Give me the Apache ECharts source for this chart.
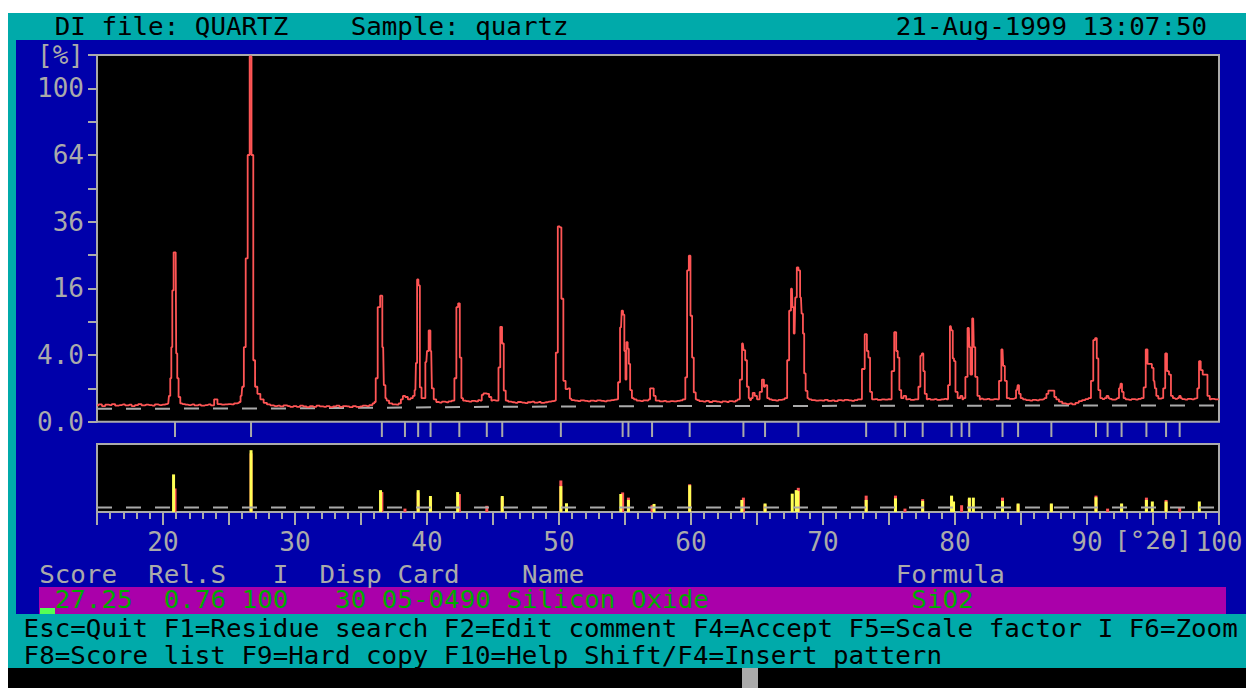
<!DOCTYPE html>
<html>
<head>
<meta charset="utf-8">
<title>DI file: QUARTZ</title>
<script src="https://cdn.jsdelivr.net/npm/echarts@6/dist/echarts.min.js"></script>
<style>
  html, body { margin: 0; padding: 0; background: #ffffff; }
  #screen { position: relative; width: 1246px; height: 688px; overflow: hidden; }
  .blk { position: absolute; }
  #chart { position: absolute; left: 0; top: 0; width: 1246px; height: 688px; }
</style>
</head>
<body>
<div id="screen">
  <div class="blk" style="left:8px;top:13px;width:1238px;height:655px;background:#00aaaa"></div>
  <div class="blk" style="left:16px;top:40px;width:1230px;height:574px;background:#0000aa"></div>
  <div class="blk" style="left:39px;top:587px;width:1187px;height:27px;background:#aa00aa"></div>
  <div class="blk" style="left:40px;top:608px;width:15px;height:6px;background:#55ff55"></div>
  <div class="blk" style="left:8px;top:668px;width:1238px;height:20px;background:#000000"></div>
  <div class="blk" style="left:742px;top:668px;width:16px;height:20px;background:#aaaaaa"></div>
  <div id="chart"></div>
</div>
<script>
// ---- screen text (column, text) ----
const headerItems = [[3, 'DI file: QUARTZ'], [22, 'Sample: quartz'], [57, '21-Aug-1999 13:07:50']];
const listHeader = [[2, 'Score'], [9, 'Rel.S'], [17, 'I'], [20, 'Disp'], [25, 'Card'], [33, 'Name'], [57, 'Formula']];
const matchRow = [[3, '27.25'], [10, '0.76'], [15, '100'], [21, '30'], [24, '05-0490'], [32, 'Silicon Oxide'], [58, 'SiO2']];
const keyRows = [
  'Esc=Quit F1=Residue search F2=Edit comment F4=Accept F5=Scale factor I F6=Zoom',
  'F8=Score list F9=Hard copy F10=Help Shift/F4=Insert pattern'
];

// ---- axes ----
const twoThetaMin = 15, twoThetaMax = 100;
const yMaxPercent = 121;
const yTickPercent = [0, 4, 16, 36, 64, 100];
const yTickText = ['0.0', '4.0', '16', '36', '64', '100'];
const xTickLabels = [20, 30, 40, 50, 60, 70, 80, 90, 100];
const xUnit = '[°2θ]';
const yUnit = '[%]';

// ---- measured scan: background counts every 0.25 deg from 15 deg (%) ----
const scanStart = 15, scanStep = 0.25;
const background = [
  0.24,0.27,0.22,0.26,0.25,0.28,0.23,0.25,0.27,0.24,0.26,0.22,0.25,0.28,0.24,0.26,0.25,0.23,0.27,0.25,
  0.26,0.28,0.3,0.3,0.3,0.3,0.28,0.26,0.25,0.27,0.24,0.26,0.23,0.25,0.27,0.24,0.45,0.28,0.26,0.27,
  0.28,0.27,0.3,0.32,0.5,0.5,0.5,0.5,0.5,0.5,0.5,0.32,0.27,0.24,0.22,0.23,0.21,0.24,0.22,0.2,
  0.22,0.2,0.23,0.21,0.19,0.22,0.2,0.23,0.21,0.2,0.22,0.19,0.21,0.23,0.2,0.22,0.21,0.19,0.22,0.2,
  0.21,0.23,0.22,0.25,0.3,0.5,0.5,0.5,0.4,0.3,0.27,0.26,0.5,0.5,0.5,0.5,0.5,0.5,0.5,0.5,
  0.5,0.5,0.5,0.5,0.33,0.36,0.34,0.37,0.5,0.5,0.5,0.5,0.38,0.36,0.39,0.37,0.42,0.5,0.5,0.5,
  0.42,0.4,0.5,0.5,0.5,0.36,0.34,0.32,0.35,0.33,0.31,0.34,0.36,0.33,0.35,0.32,0.34,0.36,0.38,0.5,
  0.5,0.5,0.5,0.5,0.42,0.4,0.38,0.41,0.39,0.37,0.4,0.38,0.41,0.39,0.37,0.4,0.42,0.44,0.5,0.5,
  0.5,0.5,0.5,0.45,0.4,0.38,0.41,0.4,0.5,0.5,0.4,0.37,0.39,0.36,0.38,0.37,0.39,0.41,0.5,0.5,
  0.5,0.5,0.42,0.38,0.36,0.39,0.35,0.38,0.36,0.34,0.37,0.35,0.38,0.36,0.4,0.5,0.5,0.5,0.42,0.5,
  0.5,0.5,0.5,0.5,0.45,0.42,0.4,0.43,0.45,0.5,0.5,0.5,0.5,0.5,0.5,0.5,0.45,0.42,0.4,0.41,
  0.4,0.43,0.39,0.41,0.38,0.42,0.4,0.43,0.41,0.39,0.42,0.45,0.5,0.5,0.5,0.5,0.46,0.43,0.45,0.44,
  0.46,0.5,0.5,0.5,0.5,0.5,0.46,0.43,0.45,0.5,0.5,0.5,0.47,0.44,0.46,0.43,0.45,0.47,0.5,0.5,
  0.5,0.5,0.5,0.5,0.5,0.5,0.5,0.5,0.48,0.45,0.47,0.44,0.46,0.5,0.5,0.5,0.5,0.47,0.48,0.5,
  0.5,0.45,0.42,0.4,0.43,0.41,0.44,0.46,0.5,0.5,0.5,0.45,0.36,0.3,0.28,0.3,0.27,0.32,0.38,0.42,
  0.46,0.5,0.5,0.5,0.5,0.46,0.5,0.47,0.44,0.46,0.5,0.5,0.45,0.43,0.46,0.44,0.47,0.5,0.5,0.5,
  0.5,0.5,0.48,0.5,0.5,0.5,0.5,0.47,0.5,0.46,0.44,0.47,0.45,0.48,0.5,0.5,0.5,0.5,0.47,0.45,
  0.46
];

// ---- measured scan: peak profiles [2theta, %] ----
const peakProfiles = [
  [[20.4,0.3],[20.5,0.6],[20.6,1.7],[20.66,5],[20.75,15.5],[20.86,25.8],[20.96,25.8],[21.04,4.2],[21.12,1.7],[21.24,0.55],[21.38,0.3]],
  [[25.8,0.35],[25.95,0.6],[26.05,1.1],[26.2,5],[26.33,24],[26.5,64],[26.63,120],[26.78,64],[26.9,3.4],[27.05,1.1],[27.25,0.7],[27.5,0.45]],
  [[36.05,0.35],[36.18,1.7],[36.35,11.8],[36.55,14.3],[36.68,5],[36.78,1.2],[36.92,0.5]],
  [[37.95,0.3],[38.1,0.45],[38.25,0.6],[38.45,0.55],[38.65,0.45],[38.85,0.5],[39.0,0.6]],
  [[39.12,0.9],[39.2,3.1],[39.3,18.2],[39.4,16.7],[39.52,1.06],[39.65,0.5],[39.8,0.5],[39.95,3.2],[40.05,4.5],[40.2,7.5],[40.32,4.5],[40.42,1],[40.6,0.45],[40.8,0.35]],
  [[42.0,0.4],[42.15,1.7],[42.3,11.8],[42.42,12.6],[42.55,3.7],[42.66,0.5],[42.8,0.4]],
  [[44.1,0.4],[44.2,0.65],[44.35,0.72],[44.6,0.7],[44.8,0.55],[44.95,0.4]],
  [[45.35,0.4],[45.48,2.65],[45.62,8.1],[45.75,5.5],[45.88,0.87],[46.05,0.4]],
  [[49.7,0.4],[49.82,4.3],[50.0,34.3],[50.12,34],[50.24,13.6],[50.42,1.5],[50.58,0.96],[50.72,1.0],[50.92,0.48]],
  [[54.4,0.45],[54.55,1.4],[54.7,8],[54.8,11.1],[54.9,10.3],[55.0,4.5],[55.07,1.6],[55.15,5.7],[55.25,4.8],[55.33,3],[55.45,0.9],[55.6,0.5]],
  [[56.85,0.45],[56.95,1.0],[57.1,1.0],[57.25,0.6],[57.4,0.4]],
  [[59.5,0.45],[59.64,1.77],[59.77,20.6],[59.9,24.8],[60.02,10.1],[60.15,3.7],[60.27,0.77],[60.45,0.45]],
  [[63.6,0.45],[63.8,1.6],[63.93,5.5],[64.03,4.6],[64.18,3.4],[64.3,1.1],[64.45,0.5]],
  [[64.6,0.5],[64.75,0.75],[64.9,0.6],[65.1,0.45],[65.3,0.8],[65.45,1.6],[65.6,1.1],[65.7,1.2],[65.85,0.5]],
  [[67.2,0.5],[67.37,3.4],[67.5,11.1],[67.65,15.9],[67.72,11.8],[67.85,7],[67.95,13.9],[68.08,21.4],[68.2,20.6],[68.33,13.9],[68.43,10.5],[68.53,7],[68.62,2.1],[68.75,0.85],[68.9,0.5]],
  [[72.85,0.45],[73.05,2.5],[73.27,6.9],[73.38,4.5],[73.5,3.7],[73.63,0.8],[73.8,0.45]],
  [[75.1,0.45],[75.3,2.3],[75.49,7.2],[75.6,4.5],[75.72,3.7],[75.85,0.9],[76.0,0.5],[76.2,0.6],[76.4,0.45]],
  [[77.15,0.45],[77.3,1.1],[77.45,3.9],[77.55,4.2],[77.65,2.3],[77.77,0.7],[77.95,0.45]],
  [[79.4,0.45],[79.55,1.2],[79.68,8.2],[79.78,7.5],[79.88,3.6],[79.97,3.3],[80.1,0.8],[80.3,0.5],[80.5,0.6],[80.62,0.45]],
  [[80.72,0.5],[80.85,1.8],[81.05,7.9],[81.12,5],[81.22,2],[81.38,9.6],[81.47,5],[81.6,1.8],[81.8,0.6],[81.95,0.45]],
  [[83.25,0.45],[83.42,1.5],[83.6,4.7],[83.7,2.8],[83.85,1.5],[84.0,0.5]],
  [[84.55,0.5],[84.7,0.9],[84.8,1.2],[84.9,0.7],[85.05,0.5]],
  [[86.85,0.5],[87.0,0.7],[87.15,0.87],[87.45,0.87],[87.6,0.55]],
  [[90.2,0.5],[90.4,1.5],[90.55,6.0],[90.68,6.3],[90.8,3.6],[90.92,0.9],[91.1,0.5]],
  [[91.4,0.5],[91.55,0.6],[91.7,0.5]],
  [[92.35,0.5],[92.5,1.0],[92.6,1.3],[92.7,0.8],[92.85,0.5]],
  [[94.2,0.5],[94.38,1.06],[94.52,4.7],[94.65,3],[94.85,3],[94.98,2.6],[95.1,1.5],[95.2,1.0],[95.3,0.6]],
  [[95.7,0.5],[95.85,1.0],[96.0,4.2],[96.12,2.3],[96.3,2.0],[96.42,0.6],[96.6,0.5]],
  [[96.95,0.5],[97.05,0.6],[97.15,0.5]],
  [[98.3,0.5],[98.42,1.0],[98.55,3.3],[98.68,2.4],[98.85,2.0],[99.05,2.0],[99.2,0.6],[99.4,0.45]]
];

// ---- fitted background of the scan [2theta, %] ----
const backgroundFit = [[15,0.15],[30,0.16],[45,0.2],[60,0.22],[80,0.23],[100,0.24]];
const stickThreshold = 0.55;

// ---- peaks found in the scan [2theta, %] ----
const foundPeaks = [
  [20.91,14.5],[26.67,90],[36.58,10.4],[38.33,0.3],[39.33,10],[40.27,5.5],[42.45,8.4],[44.53,1.0],
  [45.70,5.5],[50.14,26],[54.82,10],[55.26,5.4],[57.05,1.2],[59.9,20.2],[63.97,5.4],[65.61,1.5],
  [68.13,15.3],[73.27,7],[75.49,7],[76.21,0.3],[77.55,4.3],[79.74,6],[80.5,1.2],[81.08,4.5],
  [83.6,5.4],[84.78,1.5],[87.3,1.5],[90.68,7],[91.56,0.3],[92.62,1.5],[94.5,5.4],[95.99,3.8],[97.02,0.55]
];

// ---- card 05-0490 Silicon Oxide lines [2theta, %] ----
const cardLines = [
  [20.80,37],[26.67,100],[36.48,12.5],[39.33,12.5],[40.26,6.7],[42.32,10.4],[45.70,6.7],[50.14,17.5],
  [50.57,2],[54.68,8.5],[55.26,3.8],[57.2,1.7],[59.9,18.8],[63.85,3.8],[65.61,1.9],[67.67,8.8],
  [67.97,12.5],[68.1,11.5],[73.27,3.8],[75.49,4.9],[77.55,3.2],[79.74,7],[79.89,2.9],[81.09,5.4],
  [81.39,5.4],[83.6,3.2],[84.78,1.9],[87.3,1.9],[90.68,5.7],[92.62,1.9],[94.5,3.8],[94.95,2.9],
  [95.99,2.9],[98.51,2.9]
];

// ---- build the scan: background samples outside the peak windows plus peak points ----
const windows = peakProfiles.map(p => [p[0][0], p[p.length - 1][0]]);
const scanPts = [];
background.forEach((v, i) => {
  const x = +(scanStart + i * scanStep).toFixed(2);
  if (!windows.some(w => x >= w[0] && x <= w[1])) scanPts.push([x, v]);
});
peakProfiles.forEach(p => p.forEach(q => scanPts.push(q)));
scanPts.sort((a, b) => a[0] - b[0]);

// intensity axis is square-root scaled
const root = p => [p[0], Math.sqrt(p[1])];

const GRAY = '#aaaaaa';
const FONT_FAMILY = '"DejaVu Sans Mono", monospace';
const TEXT_SIZE = 24;
const FONT = TEXT_SIZE + 'px ' + FONT_FAMILY;
const CELL = 15.575;                       // width of one text column
const STRETCH = CELL / (TEXT_SIZE * 0.602); // widen glyphs to fill a column
const colX = c => 8 + c * CELL;

function textEl(x, y, s, color, align) {
  return {
    type: 'text', x: x, y: y, scaleX: STRETCH, silent: true,
    style: { text: s, fill: color, font: FONT, textAlign: align || 'left',
             textVerticalAlign: 'middle', verticalAlign: 'middle' }
  };
}

const graphics = [];
headerItems.forEach(([c, s]) => graphics.push(textEl(colX(c), 27, s, '#000000')));
listHeader.forEach(([c, s]) => graphics.push(textEl(colX(c), 575, s, GRAY)));
matchRow.forEach(([c, s]) => graphics.push(textEl(colX(c), 600, s, '#00aa00')));
graphics.push(textEl(colX(1), 629, keyRows[0], '#000000'));
graphics.push(textEl(colX(1), 656, keyRows[1], '#000000'));
graphics.push(textEl(1192, 541, xUnit, GRAY, 'right'));

const yMax = Math.sqrt(yMaxPercent);
const chart = echarts.init(document.getElementById('chart'), null, { renderer: 'svg' });

chart.setOption({
  animation: false,
  backgroundColor: 'transparent',
  grid: [
    { left: 97, top: 55, width: 1122, height: 366.7, show: true, backgroundColor: '#000000', borderColor: GRAY, borderWidth: 2 },
    { left: 97, top: 444, width: 1122, height: 68, show: true, backgroundColor: '#000000', borderColor: GRAY, borderWidth: 2 },
    { left: 97, top: 422, width: 1122, height: 15 }
  ],
  xAxis: [
    { gridIndex: 0, type: 'value', min: twoThetaMin, max: twoThetaMax, show: false },
    {
      gridIndex: 1, type: 'value', min: twoThetaMin, max: twoThetaMax, interval: 5,
      axisLine: { lineStyle: { color: GRAY, width: 2 } },
      axisTick: { length: 13, lineStyle: { color: GRAY, width: 2 } },
      minorTick: { show: true, splitNumber: 5, length: 7, lineStyle: { color: GRAY, width: 2 } },
      splitLine: { show: false },
      axisLabel: {
        margin: 17, color: GRAY, fontFamily: FONT_FAMILY, fontSize: 26,
        showMinLabel: true, showMaxLabel: true,
        formatter: v => xTickLabels.indexOf(Math.round(v)) >= 0 && Math.abs(v - Math.round(v)) < 1e-6 ? String(Math.round(v)) : ''
      }
    },
    { gridIndex: 2, type: 'value', min: twoThetaMin, max: twoThetaMax, show: false }
  ],
  yAxis: [
    {
      gridIndex: 0, type: 'value', min: 0, max: yMax, interval: 1,
      axisLine: { show: true, lineStyle: { color: GRAY, width: 2 } },
      axisTick: { show: true, length: 9, lineStyle: { color: GRAY, width: 2 } },
      splitLine: { show: false },
      axisLabel: {
        margin: 13, color: GRAY, fontFamily: FONT_FAMILY, fontSize: 26,
        showMinLabel: true, showMaxLabel: true,
        formatter: v => {
          if (Math.abs(v - yMax) < 1e-6) return yUnit;
          const i = yTickPercent.findIndex(p => Math.abs(Math.sqrt(p) - v) < 1e-6);
          return i >= 0 ? yTickText[i] : '';
        }
      }
    },
    { gridIndex: 1, type: 'value', min: 0, max: yMax, show: false },
    { gridIndex: 2, type: 'value', min: 0, max: 1, show: false }
  ],
  series: [
    {
      type: 'line', xAxisIndex: 0, yAxisIndex: 0, silent: true, symbol: 'none',
      data: backgroundFit.map(root),
      lineStyle: { color: GRAY, width: 2, type: [15, 14] }
    },
    {
      type: 'line', xAxisIndex: 0, yAxisIndex: 0, silent: true, symbol: 'none', step: 'middle',
      data: scanPts.map(root),
      lineStyle: { color: '#ff5555', width: 1.8 }
    },
    {
      type: 'bar', xAxisIndex: 2, yAxisIndex: 2, silent: true, barWidth: 2,
      data: foundPeaks.map(p => [p[0], 1]),
      itemStyle: { color: GRAY }
    },
    {
      type: 'line', xAxisIndex: 1, yAxisIndex: 1, silent: true, symbol: 'none',
      data: [[twoThetaMin, stickThreshold], [twoThetaMax, stickThreshold]].map(root),
      lineStyle: { color: GRAY, width: 2, type: [15, 14] }
    },
    {
      type: 'bar', xAxisIndex: 1, yAxisIndex: 1, silent: true, barWidth: 3, barGap: '-100%',
      data: foundPeaks.map(root),
      itemStyle: { color: '#ff5555' }
    },
    {
      type: 'bar', xAxisIndex: 1, yAxisIndex: 1, silent: true, barWidth: 3, barGap: '-100%',
      data: cardLines.map(root),
      itemStyle: { color: '#ffff55' }
    }
  ],
  graphic: graphics
});
</script>
</body>
</html>
